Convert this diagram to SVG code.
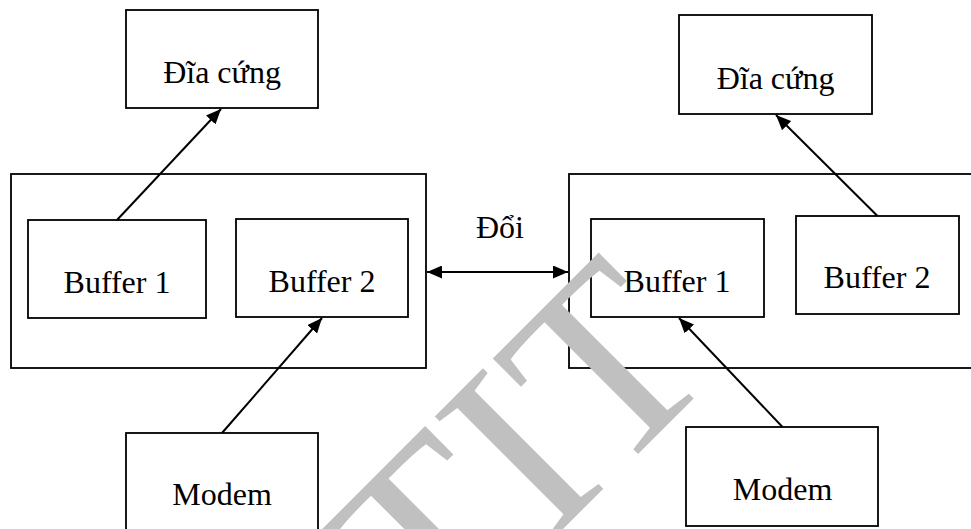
<svg xmlns="http://www.w3.org/2000/svg" width="971" height="529" viewBox="0 0 971 529">
<defs>
<marker id="ah" markerUnits="userSpaceOnUse" markerWidth="15" markerHeight="13" refX="15" refY="6.5" orient="auto-start-reverse">
<path d="M0,0 L15,6.5 L0,13 z" fill="#000"/>
</marker>
<style>
.box{fill:#fff;stroke:#000;stroke-width:1.8}
.lbl{font-family:"Liberation Serif","Times New Roman",serif;font-size:32px;fill:#000;text-anchor:middle}
.conn{stroke:#000;stroke-width:2;fill:none}
.wm{font-family:"Liberation Serif","Times New Roman",serif;font-size:260px;fill:#c0c0c0}
</style>
</defs>
<rect width="971" height="529" fill="#fff"/>
<g id="left-host"><rect class="box" x="11" y="174" width="415" height="194"/></g>
<g id="right-host"><rect class="box" x="569" y="174" width="430" height="194"/></g>
<g id="left-disk"><rect class="box" x="126" y="10" width="192" height="98"/><text class="lbl" x="222" y="83">Đĩa cứng</text></g>
<g id="right-disk"><rect class="box" x="679" y="15" width="193" height="99"/><text class="lbl" x="775.5" y="89">Đĩa cứng</text></g>
<g id="left-buffer1"><rect class="box" x="28" y="220" width="178" height="98"/><text class="lbl" x="117" y="293">Buffer 1</text></g>
<g id="left-buffer2"><rect class="box" x="236" y="219" width="172" height="98"/><text class="lbl" x="322" y="292">Buffer 2</text></g>
<g id="right-buffer1"><rect class="box" x="591" y="219" width="173" height="98"/><text class="lbl" x="677" y="292">Buffer 1</text></g>
<g id="right-buffer2"><rect class="box" x="796" y="216" width="163" height="98"/><text class="lbl" x="877" y="288">Buffer 2</text></g>
<g id="left-modem"><rect class="box" x="126" y="433" width="192" height="110"/><text class="lbl" x="222" y="505">Modem</text></g>
<g id="right-modem"><rect class="box" x="686" y="427" width="192" height="99"/><text class="lbl" x="782.5" y="500">Modem</text></g>
<g id="connectors">
<line class="conn" x1="117" y1="220" x2="221" y2="109" marker-end="url(#ah)"/>
<line class="conn" x1="222" y1="433" x2="322" y2="318" marker-end="url(#ah)"/>
<line class="conn" x1="877.5" y1="216" x2="776" y2="115" marker-end="url(#ah)"/>
<line class="conn" x1="782.5" y1="427" x2="679" y2="318" marker-end="url(#ah)"/>
<line class="conn" x1="427" y1="272" x2="568" y2="272" marker-start="url(#ah)" marker-end="url(#ah)"/>
<text class="lbl" x="500" y="238">Đổi</text>
</g>
<text class="wm" transform="translate(334,758) rotate(-45)">PTIT</text>
</svg>
